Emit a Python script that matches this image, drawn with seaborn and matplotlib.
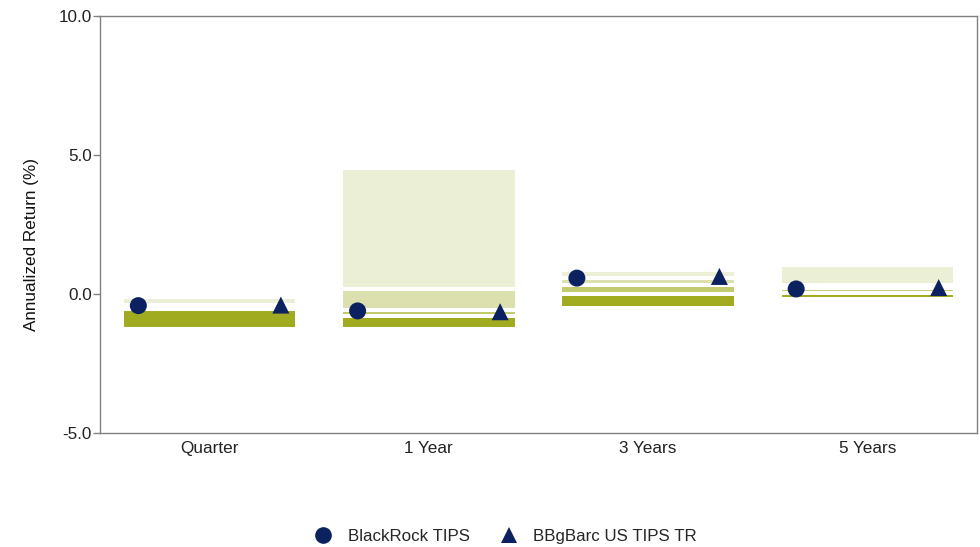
import matplotlib
matplotlib.use("Agg")
import matplotlib.pyplot as plt
import seaborn as sns
import numpy as np
import pandas as pd
from matplotlib.lines import Line2D

# ---- data ----
categories = ["Quarter", "1 Year", "3 Years", "5 Years"]
p5 = [-0.12, 4.53, 0.87, 1.05]
p25 = [-0.38, 0.19, 0.59, 0.33]
p50 = [-0.46, -0.58, 0.33, 0.21]
p75 = [-0.54, -0.80, -0.01, 0.04]
p95 = [-1.25, -1.25, -0.49, -0.17]
fund_name = "BlackRock TIPS"
bench_name = "BBgBarc US TIPS TR"
fund_values = [-0.42, -0.61, 0.57, 0.18]
bench_values = [-0.40, -0.64, 0.63, 0.23]
y_ticks = [-5.0, 0.0, 5.0, 10.0]

band_colors = ["#EBEFD5", "#DBE0AE", "#C2CA6E", "#A1AB1F"]
navy = "#0B2160"

sns.set_theme(style="white")
plt.rcParams["font.family"] = ["Liberation Sans", "DejaVu Sans"]

fig = plt.figure(figsize=(9.8, 5.47), dpi=100)
ax = fig.add_axes([0.102, 0.2084, 0.895, 0.7626])

x = np.arange(len(categories))
bounds = [p5, p25, p50, p75, p95]
for i in range(4):
    top = np.array(bounds[i])
    bot = np.array(bounds[i + 1])
    ax.bar(x, top - bot, bottom=bot, width=0.8, color=band_colors[i],
           edgecolor="white", linewidth=2.9, zorder=2)

df = pd.DataFrame({
    "x": np.concatenate([x - 0.325, x + 0.325]),
    "y": fund_values + bench_values,
    "series": [fund_name] * 4 + [bench_name] * 4,
})
sns.scatterplot(data=df, x="x", y="y", style="series",
                markers={fund_name: "o", bench_name: "^"},
                color=navy, s=150, edgecolor=navy, linewidth=0,
                ax=ax, zorder=3, legend=False)

ax.set_xlim(-0.5, 3.5)
ax.set_ylim(-5, 10)
ax.set_xticks(x)
ax.set_xticklabels(categories, fontsize=12.3, color="#222222")
ax.set_yticks(y_ticks)
ax.set_yticklabels([f"{v:.1f}" for v in y_ticks], fontsize=12.3, color="#222222")
ax.set_xlabel("")
ax.set_ylabel("Annualized Return (%)", fontsize=12.3, color="#111111")
ax.yaxis.set_label_coords(-0.0695, 0.453)
ax.tick_params(axis="y", which="both", left=True, length=5, width=1,
               color="#808080", pad=1)
ax.tick_params(axis="x", bottom=False, pad=0)
for s in ax.spines.values():
    s.set_visible(True)
    s.set_color("#808080")
    s.set_linewidth(1.0)

handles = [
    Line2D([], [], marker="o", linestyle="none", color=navy, markersize=12,
           markeredgewidth=0, label=fund_name),
    Line2D([], [], marker="^", linestyle="none", color=navy, markersize=12,
           markeredgewidth=0, label=bench_name),
]
fig.legend(handles=handles, loc="lower center", bbox_to_anchor=(0.516, -0.022),
           ncol=2, frameon=False, fontsize=12.2, handletextpad=0.95,
           columnspacing=1.8, handlelength=1.0)

fig.savefig("out.png", dpi=100)
